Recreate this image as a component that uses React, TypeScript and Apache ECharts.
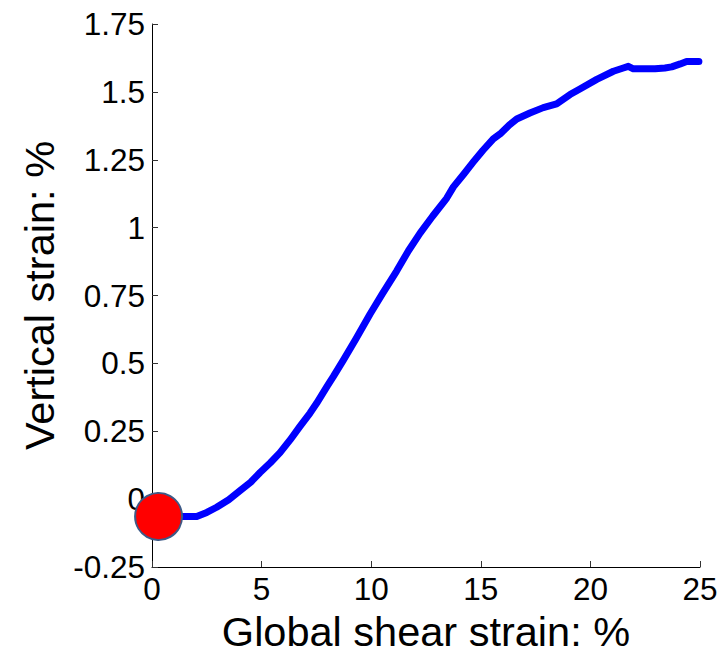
import React, { useEffect, useRef } from "react";
import * as echarts from "echarts";

const shearStrain = [
  0.3, 1.0, 2.04, 2.5, 2.95, 3.5, 4.01, 4.5, 4.93, 5.4, 5.84, 6.3, 6.75, 7.21, 7.51, 8.0, 8.27,
  8.73, 9.3, 9.95, 10.5, 11.16, 11.7, 12.23, 12.8, 13.44, 13.75, 14.2, 14.66, 15.1, 15.57, 15.88,
  16.3, 16.64, 17.24, 17.85, 18.46, 19.07, 19.5, 20.29, 21.05, 21.5, 21.73, 21.96, 22.95, 23.4,
  23.71, 24.1, 24.39, 24.95,
];
const verticalStrain = [
  -0.064, -0.064, -0.064, -0.049, -0.03, -0.002, 0.031, 0.062, 0.098, 0.134, 0.171, 0.218, 0.268,
  0.317, 0.353, 0.417, 0.451, 0.512, 0.59, 0.682, 0.755, 0.84, 0.915, 0.98, 1.042, 1.108, 1.15,
  1.195, 1.242, 1.285, 1.327, 1.345, 1.378, 1.4, 1.422, 1.442, 1.456, 1.49, 1.51, 1.546, 1.576,
  1.588, 1.594, 1.585, 1.585, 1.588, 1.592, 1.603, 1.612, 1.612,
];
const startPoint = [0.3, -0.064];

const xTicks = { min: 0, max: 25, interval: 5 };
const yTicks = { min: -0.25, max: 1.75, interval: 0.25 };

const FONT = "'Liberation Sans', Arial, sans-serif";

export default function App() {
  const ref = useRef<HTMLDivElement>(null);
  useEffect(() => {
    if (!ref.current) return;
    const chart = echarts.init(ref.current, null, { renderer: "svg" });
    const lineData = shearStrain.map((x, i) => [x, verticalStrain[i]]);
    chart.setOption({
      animation: false,
      backgroundColor: "#ffffff",
      grid: { left: 152, right: 27, top: 24, bottom: 86 },
      xAxis: {
        type: "value",
        min: xTicks.min,
        max: xTicks.max,
        interval: xTicks.interval,
        name: "Global shear strain: %",
        nameLocation: "middle",
        nameGap: 43,
        nameTextStyle: { fontFamily: FONT, fontSize: 41.5, color: "#000" },
        axisLine: { show: true, onZero: false, lineStyle: { color: "#000", width: 1 } },
        axisTick: { show: true, inside: true, length: 6, lineStyle: { color: "#333", width: 1 } },
        axisLabel: {
          fontFamily: FONT,
          fontSize: 31.5,
          color: "#000",
          margin: 6,
          showMinLabel: true,
          showMaxLabel: true,
        },
        splitLine: { show: false },
      },
      yAxis: {
        type: "value",
        min: yTicks.min,
        max: yTicks.max,
        interval: yTicks.interval,
        name: "Vertical strain: %",
        nameLocation: "middle",
        nameGap: 92,
        nameTextStyle: { fontFamily: FONT, fontSize: 41.5, color: "#000" },
        axisLine: { show: true, onZero: false, lineStyle: { color: "#000", width: 1 } },
        axisTick: { show: true, inside: true, length: 6, lineStyle: { color: "#333", width: 1 } },
        axisLabel: {
          fontFamily: FONT,
          fontSize: 31.5,
          color: "#000",
          margin: 7,
          showMinLabel: true,
          showMaxLabel: true,
        },
        splitLine: { show: false },
      },
      series: [
        {
          type: "line",
          data: lineData,
          showSymbol: false,
          symbol: "none",
          smooth: false,
          lineStyle: { color: "#0000ff", width: 7, cap: "round", join: "round" },
          z: 2,
        },
        {
          type: "scatter",
          data: [startPoint],
          symbol: "circle",
          symbolSize: 47,
          itemStyle: { color: "#ff0000", borderColor: "#3d5a87", borderWidth: 2, opacity: 1 },
          z: 3,
        },
      ],
    });
    return () => chart.dispose();
  }, []);
  return (
    <div
      ref={ref}
      style={{ position: "fixed", left: 0, top: 0, width: 727, height: 657, background: "#fff" }}
    />
  );
}
